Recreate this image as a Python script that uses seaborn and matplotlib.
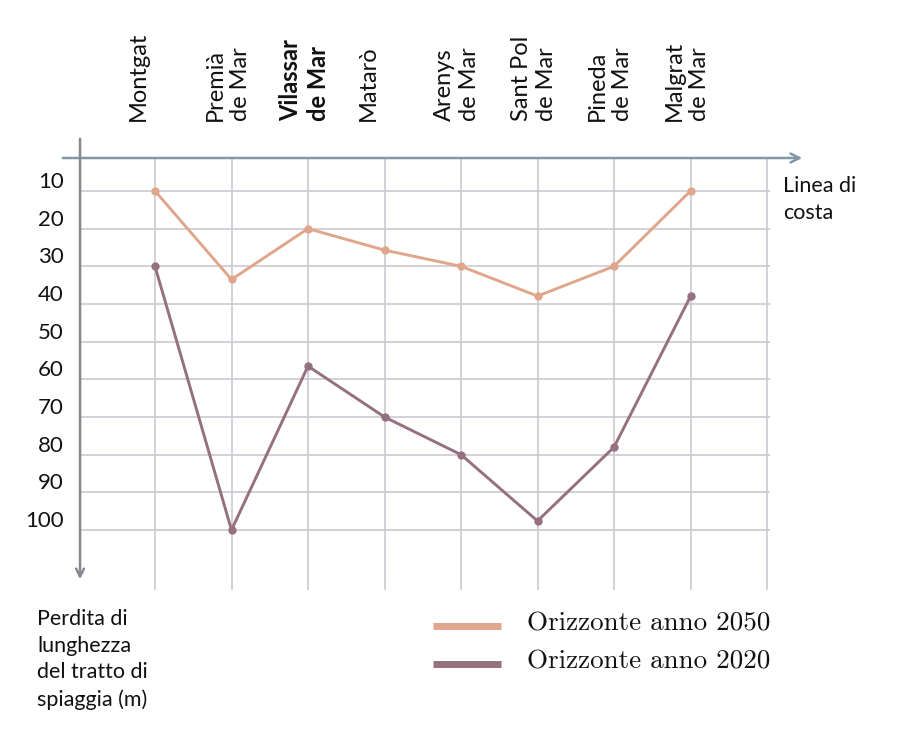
import matplotlib
matplotlib.use("Agg")
import matplotlib.pyplot as plt
import matplotlib.transforms as mtransforms
import seaborn as sns
import pandas as pd

# ---- data ----
towns = ["Montgat", "Premià\nde Mar", "Vilassar\nde Mar", "Matarò", "Arenys\nde Mar",
         "Sant Pol\nde Mar", "Pineda\nde Mar", "Malgrat\nde Mar"]
loss_2050 = [10, 33.5, 20, 25.7, 30, 37.9, 30, 10]
loss_2020 = [30, 100, 56.5, 70, 80, 97.6, 78, 38]
y_ticks = [10, 20, 30, 40, 50, 60, 70, 80, 90, 100]
series_names = ["Orizzonte anno 2050", "Orizzonte anno 2020"]
series_colors = ["#dfa68b", "#95707f"]

sns.set_theme(style="white")
plt.rcParams["font.family"] = ["Lato", "DejaVu Sans"]

W, H, DPI = 921, 732, 100
fig = plt.figure(figsize=(W / DPI, H / DPI), dpi=DPI)

# axes in pixel coordinates
left_px, right_px, top_px, bottom_px = 40, 830, 130, 600
ax = fig.add_axes([left_px / W, 1 - bottom_px / H, (right_px - left_px) / W, (bottom_px - top_px) / H])
x0_px, dx_px = 155, 76.5
v0_px, dv_px = 153.3, 3.767
ax.set_xlim((left_px - x0_px) / dx_px, (right_px - x0_px) / dx_px)
ax.set_ylim((bottom_px - v0_px) / dv_px, (top_px - v0_px) / dv_px)
ax.axis("off")

idx = list(range(len(towns)))
grid_c = "#c9c9d1"
axis_v = (158 - v0_px) / dv_px
# grid
ax.hlines(y_ticks, -1, (770 - x0_px) / dx_px, color=grid_c, lw=1.2, zorder=1)
ax.vlines(list(range(len(towns) + 1)), axis_v, (590 - v0_px) / dv_px, color=grid_c, lw=1.2, zorder=1)

# axes arrows
ax.annotate("", xy=((805 - x0_px) / dx_px, axis_v), xytext=((60 - x0_px) / dx_px, axis_v),
            arrowprops=dict(arrowstyle="->", color="#7f9aa6", lw=1.8,
                            mutation_scale=16), zorder=3)
ax.annotate("", xy=(-0.98, (582 - v0_px) / dv_px), xytext=(-0.98, (136 - v0_px) / dv_px),
            arrowprops=dict(arrowstyle="->", color="#85888f", lw=1.8,
                            mutation_scale=14), zorder=3, annotation_clip=False)

# series
df = pd.DataFrame({
    "pos": idx * 2,
    "loss": loss_2050 + loss_2020,
    "serie": [series_names[0]] * len(idx) + [series_names[1]] * len(idx),
})
sns.lineplot(data=df, x="pos", y="loss", hue="serie", palette=series_colors,
             marker="o", markersize=6, markeredgewidth=0, lw=2.1, ax=ax,
             legend=False, zorder=4)

# category labels (rotated)
trans_top = mtransforms.blended_transform_factory(ax.transData, fig.transFigure)
for i, t in enumerate(towns):
    lab = t if "\n" in t else t + "\n "
    ax.text(i - 0.05, 1 - 121 / H, lab, rotation=90, ha="center", va="bottom",
            multialignment="left", fontsize=17, color="#111111",
            fontweight="bold" if i == 2 else "normal", transform=trans_top,
            linespacing=1.25)

# y tick labels
trans_y = mtransforms.blended_transform_factory(fig.transFigure, ax.transData)
off = mtransforms.ScaledTranslation(0, 9 / DPI, fig.dpi_scale_trans)
for v in y_ticks:
    ax.text(64 / W, v, str(v), ha="right", va="center", fontsize=16, color="#111111",
            transform=trans_y + off)

# side / bottom text
fig.text(783 / W, 1 - 176 / H, "Linea di\ncosta", ha="left", va="top", fontsize=15.5,
         color="#111111", linespacing=1.45)
fig.text(37 / W, 1 - 609 / H, "Perdita di\nlunghezza\ndel tratto di\nspiaggia (m)",
         ha="left", va="top", fontsize=15.5, color="#111111", linespacing=1.42)

# legend (manual)
for k, (name, col) in enumerate(zip(series_names, series_colors)):
    yk = 1 - (626 + 37.5 * k) / H
    fig.add_artist(plt.Line2D([433 / W, 501 / W], [yk, yk], color=col, lw=5,
                              transform=fig.transFigure, solid_capstyle="butt"))
    fig.text(527 / W, yk + 2 / H, name, ha="left", va="center", fontsize=19.5,
             family="cmr10", color="#111111")

fig.savefig("out.png", dpi=DPI)
